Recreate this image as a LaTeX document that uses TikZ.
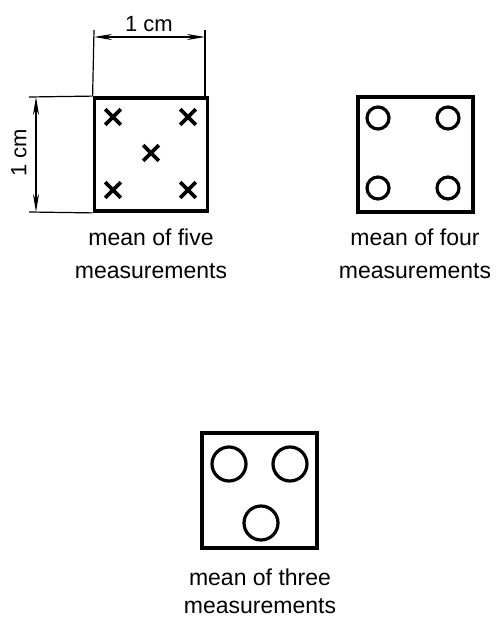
\documentclass[tikz,border=0pt]{standalone}
\usepackage{fontspec}
\setmainfont{Liberation Sans}
\usetikzlibrary{shapes.misc,arrows.meta}
\begin{document}
\begin{tikzpicture}[x=1pt,y=-1pt,
  sq/.style={draw,line width=3.8pt,minimum size=113pt,inner sep=0pt},
  xmark/.style={draw,cross out,line width=3.6pt,minimum size=12pt,inner sep=0pt},
  ring/.style={draw,circle,line width=3.2pt,inner sep=0pt},
  dimline/.style={line width=1.2pt},
  dimarrow/.style={line width=1.2pt,{Stealth[length=18pt,width=6pt]}-{Stealth[length=18pt,width=6pt]}},
  lbl/.style={font=\fontsize{23}{28}\selectfont,inner sep=0pt,anchor=base},
  dimlbl/.style={font=\fontsize{22}{26}\selectfont,inner sep=0pt}]
\useasboundingbox (0,0) rectangle (496,617);
% box one
\node[sq] (b1) at (151,154.5) {};
\node[xmark] (x1) at (113,117) {};
\node[xmark] (x2) at (188,117) {};
\node[xmark] (x3) at (151,153) {};
\node[xmark] (x4) at (113,190) {};
\node[xmark] (x5) at (188,190) {};
% dimensions
\coordinate (t1) at (94,30);
\coordinate (t2) at (205,30);
\coordinate (t3) at (205,97);
\draw[dimline] (t1) -- (b1.north west);
\draw[dimline] (t2) -- (t3);
\coordinate (ta) at (94,37);
\coordinate (tb) at (205,37);
\draw[dimarrow] (ta) -- (tb);
\node[dimlbl] (tl) at (149,24) {1 cm};
\coordinate (l1) at (29,97);
\coordinate (l2) at (29,212);
\draw[dimline] (l1) -- (b1.north west);
\draw[dimline] (l2) -- (b1.south west);
\coordinate (la) at (36,97);
\coordinate (lb) at (36,212);
\draw[dimarrow] (la) -- (lb);
\node[dimlbl,rotate=90] (ll) at (19,153) {1 cm};
\node[lbl] (c1a) at (151,245) {mean of five};
\node[lbl] (c1b) at (151,278) {measurements};
% box two
\node[sq,minimum size=115pt] (b2) at (415.5,154.5) {};
\node[ring,minimum size=22pt] (o1) at (378,118) {};
\node[ring,minimum size=22pt] (o2) at (448,118) {};
\node[ring,minimum size=22pt] (o3) at (378,188) {};
\node[ring,minimum size=22pt] (o4) at (448,188) {};
\node[lbl] (c2a) at (415,245) {mean of four};
\node[lbl] (c2b) at (415,278) {measurements};
% box three
\node[sq,minimum size=115pt] (b3) at (259.5,490.5) {};
\node[ring,minimum size=34pt] (p1) at (229,464) {};
\node[ring,minimum size=34pt] (p2) at (290,464) {};
\node[ring,minimum size=34pt] (p3) at (261,523) {};
\node[lbl] (c3a) at (260,585) {mean of three};
\node[lbl] (c3b) at (260,613) {measurements};
\end{tikzpicture}
\end{document}
